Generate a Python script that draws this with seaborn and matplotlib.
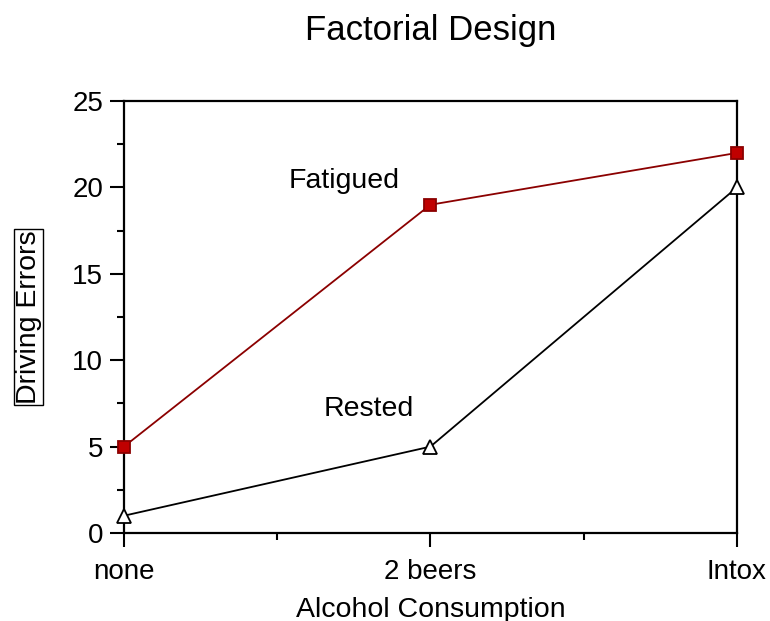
import pandas as pd
import matplotlib
matplotlib.use("Agg")
import matplotlib.pyplot as plt
import seaborn as sns
from matplotlib.ticker import MultipleLocator

# data
alcohol = ["none", "2 beers", "Intox"]
fatigued = [5, 19, 22]
rested = [1, 5, 20]

df = pd.DataFrame({
    "alcohol": alcohol * 2,
    "errors": fatigued + rested,
    "group": ["Fatigued"] * 3 + ["Rested"] * 3,
})

sns.set_style("white")
plt.rcParams["font.family"] = ["Liberation Sans", "DejaVu Sans"]
plt.rcParams["text.color"] = "black"
plt.rcParams["axes.labelcolor"] = "black"
plt.rcParams["xtick.color"] = "black"
plt.rcParams["ytick.color"] = "black"

fig = plt.figure(figsize=(7.7, 6.21), dpi=100)
ax = fig.add_axes([0.161, 0.1417, 0.796, 0.6955])

sns.lineplot(data=df[df.group == "Fatigued"], x="alcohol", y="errors",
             color="#8b0000", lw=1.3, marker="s", markersize=8,
             markerfacecolor="#c00000", markeredgecolor="#8b0000",
             markeredgewidth=1.3, clip_on=False, zorder=5, ax=ax)
sns.lineplot(data=df[df.group == "Rested"], x="alcohol", y="errors",
             color="black", lw=1.3, marker="^", markersize=10,
             markerfacecolor="white", markeredgecolor="black",
             markeredgewidth=1.3, clip_on=False, zorder=5, ax=ax)

ax.set_xlim(0, 2)
ax.set_ylim(0, 25)
ax.set_xticks([0, 1, 2])
ax.set_xticklabels(alcohol)
ax.xaxis.set_minor_locator(MultipleLocator(0.5))
ax.yaxis.set_major_locator(MultipleLocator(5))
ax.yaxis.set_minor_locator(MultipleLocator(2.5))
ax.tick_params(axis="both", which="major", direction="out", length=10,
               width=1.5, labelsize=20, pad=5, bottom=True, left=True)
ax.tick_params(axis="x", which="major", pad=9)
ax.tick_params(axis="both", which="minor", direction="out", length=5,
               width=1.5, bottom=True, left=True)

for s in ax.spines.values():
    s.set_visible(True)
    s.set_color("black")
    s.set_linewidth(1.6)

ax.text(0.72, 20.4, "Fatigued", fontsize=20.5, ha="center", va="center")
ax.text(0.8, 7.2, "Rested", fontsize=20.5, ha="center", va="center")

ax.set_xlabel("Alcohol Consumption", fontsize=20.5, labelpad=8)
ax.set_ylabel("Driving Errors", fontsize=20.5, labelpad=22,
              bbox=dict(facecolor="none", edgecolor="black", lw=1, pad=1))
ax.set_title("Factorial Design", fontsize=25, pad=44)

fig.savefig("out.png", dpi=100)
